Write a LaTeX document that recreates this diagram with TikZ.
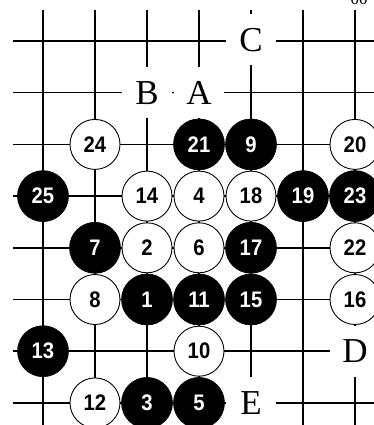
\documentclass[tikz,border=0pt]{standalone}
\usepackage{fontspec}
\setmainfont{Liberation Serif}
\newfontfamily\numfont[FakeStretch=0.9]{Liberation Sans}
\begin{document}
\begin{tikzpicture}[x=1pt,y=-1pt,
  grid/.style={line width=1.5pt,black},
  bstone/.style={circle,fill=black,draw=black,line width=0.6pt,minimum size=51pt,inner sep=0pt,text=white,font=\numfont\bfseries\fontsize{22.5}{22.5}\selectfont},
  wstone/.style={circle,fill=white,draw=black,line width=0.9pt,minimum size=50pt,inner sep=0pt,text=black,font=\numfont\bfseries\fontsize{22.5}{22.5}\selectfont},
  lbl/.style={fill=white,minimum width=50pt,minimum height=51pt,inner sep=0pt,font=\fontsize{35}{35}\selectfont}]
\useasboundingbox (0,0) rectangle (374,425);
\clip (0,0) rectangle (374,425);
% grid
\foreach \x in {43,95,147,199,251,303,355}
  \draw[grid] (\x,10) -- (\x,426);
\foreach \y in {41,92.7,144.4,196.1,247.8,299.5,351.2,402.9}
  \draw[grid] (13,\y) -- (375,\y);
% labels
\node[lbl] (C) at (251,40) {C};
\node[lbl] (B) at (147,92.7) {B};
\node[lbl] (A) at (199,92.7) {A};
\node[lbl] (D) at (355,351.2) {D};
\node[lbl] (E) at (251,402.9) {E};
\fill (173,92.7) circle (0.9pt);
% stones row 2
\node[wstone] (s24) at (95,144.4) {24};
\node[bstone] (s21) at (199,144.4) {21};
\node[bstone] (s9) at (251,144.4) {9};
\node[wstone] (s20) at (355,144.4) {20};
% row 3
\node[bstone] (s25) at (43,196.1) {25};
\node[wstone] (s14) at (147,196.1) {14};
\node[wstone] (s4) at (199,196.1) {4};
\node[wstone] (s18) at (251,196.1) {18};
\node[bstone] (s19) at (303,196.1) {19};
\node[bstone] (s23) at (355,196.1) {23};
% row 4
\node[bstone] (s7) at (95,247.8) {7};
\node[wstone] (s2) at (147,247.8) {2};
\node[wstone] (s6) at (199,247.8) {6};
\node[bstone] (s17) at (251,247.8) {17};
\node[wstone] (s22) at (355,247.8) {22};
% row 5
\node[wstone] (s8) at (95,299.5) {8};
\node[bstone] (s1) at (147,299.5) {1};
\node[bstone] (s11) at (199,299.5) {11};
\node[bstone] (s15) at (251,299.5) {15};
\node[wstone] (s16) at (355,299.5) {16};
% row 6
\node[bstone] (s13) at (43,351.2) {13};
\node[wstone] (s10) at (199,351.2) {10};
% row 7
\node[wstone] (s12) at (95,402.9) {12};
\node[bstone] (s3) at (147,402.9) {3};
\node[bstone] (s5) at (199,402.9) {5};
% cut-off text at top right
\node[anchor=base,inner sep=0pt,font=\fontsize{17}{17}\selectfont] (top) at (359,4.5) {00};
\end{tikzpicture}
\end{document}
